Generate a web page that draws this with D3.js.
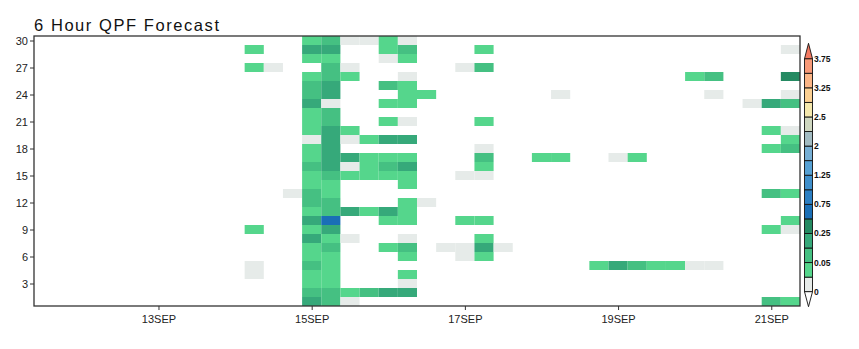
<!DOCTYPE html>
<html>
<head>
<meta charset="utf-8">
<script src="https://cdn.jsdelivr.net/npm/d3@7"></script>
<style>
  body { margin: 0; background: #fff; }
  text { font-family: "Liberation Sans", Arial, sans-serif; }
</style>
</head>
<body>
<div id="chart"></div>
<script>
/* ----- data ------------------------------------------------------------- */

// ensemble members (y categories) and the y tick labels
var members = d3.range(1, 31);
var yTicks = [3, 6, 9, 12, 15, 18, 21, 24, 27, 30];

// 6 hourly valid times (x categories), 11SEP 12Z .. 21SEP 06Z
var firstValid = new Date(Date.UTC(2018, 8, 11, 12));
var nSteps = 40;
var validTimes = d3.range(nSteps).map(function(i) { return d3.utcHour.offset(firstValid, 6 * i); });
var xTicks = ["2018-09-13", "2018-09-15", "2018-09-17", "2018-09-19", "2018-09-21"];

// contour levels of the colour bar and the ones that get a label
var levels = [0, 0.01, 0.05, 0.1, 0.25, 0.5, 0.75, 1, 1.25, 1.5, 2, 2.25, 2.5, 3, 3.25, 3.5, 3.75];
var labelLevels = [0, 0.05, 0.25, 0.75, 1.25, 2, 2.5, 3.25, 3.75];
var colors = ["#ffffff", "#e6ebe9", "#55d68c", "#45c082", "#36a97a", "#258a62", "#1a6fb6",
              "#2c7fc3", "#3f8fcb", "#56a1d4", "#76aed4", "#a2bbc2", "#cfd7c0", "#f5e8ad",
              "#fcd092", "#fbb586", "#f89a78", "#f47a62"];

// QPF per member (member 1 first): [time step index, inches]
var qpf = [
  [[14,.17],[15,.07],[16,.005],[38,.07],[39,.03]],
  [[14,.07],[15,.07],[16,.03],[17,.07],[18,.17],[19,.17]],
  [[14,.03],[15,.03],[19,.005]],
  [[11,.005],[14,.03],[15,.03],[19,.03]],
  [[11,.005],[14,.07],[15,.03],[29,.03],[30,.17],[31,.07],[32,.03],[33,.03],[34,.005],[35,.005]],
  [[14,.03],[15,.03],[19,.03],[22,.005],[23,.03]],
  [[14,.03],[15,.07],[18,.03],[19,.07],[21,.005],[22,.005],[23,.17],[24,.005]],
  [[14,.17],[15,.03],[16,.005],[19,.005],[23,.03]],
  [[11,.03],[14,.03],[15,.17],[38,.03],[39,.005]],
  [[14,.17],[15,.6],[18,.03],[19,.03],[22,.03],[23,.03],[39,.03]],
  [[14,.03],[15,.07],[16,.17],[17,.03],[18,.17],[19,.03]],
  [[14,.07],[15,.07],[19,.03],[20,.005]],
  [[13,.005],[14,.07],[15,.03],[38,.07],[39,.03]],
  [[14,.03],[15,.03],[19,.03]],
  [[14,.03],[15,.07],[16,.03],[17,.03],[18,.03],[19,.03],[22,.005],[23,.005]],
  [[14,.07],[15,.17],[16,.005],[17,.03],[18,.07],[19,.17],[23,.03]],
  [[14,.03],[15,.17],[16,.17],[17,.03],[18,.03],[19,.03],[23,.07],[26,.03],[27,.03],[30,.005],[31,.03]],
  [[14,.03],[15,.17],[23,.005],[38,.03],[39,.07]],
  [[14,.005],[15,.17],[16,.005],[17,.03],[18,.17],[19,.17],[39,.03]],
  [[14,.03],[15,.17],[16,.03],[38,.03],[39,.005]],
  [[14,.03],[15,.07],[18,.03],[19,.005],[23,.03]],
  [[14,.03],[15,.07]],
  [[14,.17],[15,.005],[18,.03],[19,.03],[37,.005],[38,.17],[39,.07]],
  [[14,.07],[15,.17],[19,.03],[20,.03],[27,.005],[35,.005],[39,.005]],
  [[14,.07],[15,.17],[18,.07],[19,.03]],
  [[14,.03],[15,.07],[16,.03],[19,.005],[34,.03],[35,.07],[39,.35]],
  [[11,.03],[12,.005],[15,.07],[16,.005],[22,.005],[23,.07]],
  [[14,.03],[15,.03],[18,.005],[19,.03]],
  [[11,.03],[14,.17],[15,.17],[18,.03],[19,.07],[23,.03],[39,.005]],
  [[14,.03],[15,.07],[16,.005],[17,.005],[18,.03],[19,.005]]
];

/* ----- chart ------------------------------------------------------------ */

var width = 859,
    height = 349,
    plotLeft = 34, plotRight = 800, plotTop = 36, plotBottom = 306;

var svg = d3.select("#chart")
  .append("svg")
    .attr("width", width)
    .attr("height", height);

// x covers half a step either side of the first and last valid time
var x = d3.scaleUtc()
  .domain([d3.utcHour.offset(validTimes[0], -3), d3.utcHour.offset(validTimes[nSteps - 1], 3)])
  .range([plotLeft, plotRight]);

var y = d3.scaleLinear()
  .domain([0.5, 30.5])
  .range([plotBottom, plotTop]);

var color = d3.scaleThreshold()
  .domain(levels)
  .range(colors);

// flatten the member rows into cells
var cells = [];
qpf.forEach(function(row, i) {
  row.forEach(function(c) {
    cells.push({ member: members[i], time: validTimes[c[0]], value: c[1] });
  });
});

svg.append("g")
  .selectAll("rect")
  .data(cells)
  .enter()
  .append("rect")
    .attr("x", function(d) { return x(d3.utcHour.offset(d.time, -3)); })
    .attr("width", function(d) { return x(d3.utcHour.offset(d.time, 3)) - x(d3.utcHour.offset(d.time, -3)); })
    .attr("y", function(d) { return y(d.member + 0.5); })
    .attr("height", function(d) { return y(d.member - 0.5) - y(d.member + 0.5); })
    .attr("fill", function(d) { return color(d.value); });

// axes
var fmt = d3.utcFormat("%d%b");
var xAxis = svg.append("g")
  .attr("transform", "translate(0," + plotBottom + ")")
  .call(d3.axisBottom(x)
    .tickValues(xTicks.map(function(s) { return new Date(s + "T00:00Z"); }))
    .tickFormat(function(d) { return fmt(d).toUpperCase(); })
    .tickSize(4)
    .tickPadding(5));

var yAxis = svg.append("g")
  .attr("transform", "translate(" + plotLeft + ",0)")
  .call(d3.axisLeft(y)
    .tickValues(yTicks)
    .tickSize(4)
    .tickPadding(2));

[xAxis, yAxis].forEach(function(g) {
  g.select(".domain").remove();
  g.selectAll("line").attr("stroke", "#333");
  g.selectAll("text")
    .style("font-size", "11px")
    .attr("fill", "#222");
});

// frame
svg.append("rect")
  .attr("x", plotLeft)
  .attr("y", plotTop)
  .attr("width", plotRight - plotLeft)
  .attr("height", plotBottom - plotTop)
  .attr("fill", "none")
  .attr("stroke", "#333")
  .attr("stroke-width", 1.3);

// title
svg.append("text")
  .attr("x", 34)
  .attr("y", 31)
  .attr("textLength", 185)
  .attr("lengthAdjust", "spacing")
  .style("font-size", "16.5px")
  .attr("fill", "#111")
  .text("6 Hour QPF Forecast");

/* ----- colour bar ------------------------------------------------------- */
var cbx = 804.5, cbw = 8;
var cb = d3.scaleLinear()
  .domain([0, levels.length - 1])
  .range([291.7, 58.7]);

var bar = svg.append("g");
bar.selectAll("rect")
  .data(d3.range(levels.length - 1))
  .enter()
  .append("rect")
    .attr("x", cbx)
    .attr("width", cbw)
    .attr("y", function(i) { return cb(i + 1); })
    .attr("height", function(i) { return cb(i) - cb(i + 1); })
    .attr("fill", function(i) { return color(levels[i]); })
    .attr("stroke", "#111")
    .attr("stroke-width", 0.9);

// end triangles
bar.append("path")
  .attr("d", "M" + cbx + "," + cb(0) + "L" + (cbx + cbw) + "," + cb(0) + "L" + (cbx + cbw / 2) + "," + (cb(0) + 15) + "Z")
  .attr("fill", colors[0])
  .attr("stroke", "#111")
  .attr("stroke-width", 0.9);
bar.append("path")
  .attr("d", "M" + cbx + "," + cb(16) + "L" + (cbx + cbw) + "," + cb(16) + "L" + (cbx + cbw / 2) + "," + (cb(16) - 15.4) + "Z")
  .attr("fill", colors[colors.length - 1])
  .attr("stroke", "#111")
  .attr("stroke-width", 0.9);

bar.selectAll("text")
  .data(labelLevels)
  .enter()
  .append("text")
    .attr("x", cbx + cbw + 1.5)
    .attr("y", function(d) { return cb(levels.indexOf(d)) + 3; })
    .style("font-size", "8.5px")
    .style("font-weight", "bold")
    .attr("fill", "#111")
    .text(function(d) { return d; });
</script>
</body>
</html>
